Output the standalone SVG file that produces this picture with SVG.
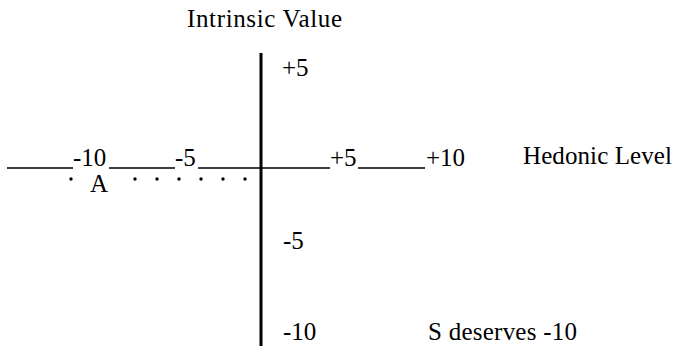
<svg xmlns="http://www.w3.org/2000/svg" width="676" height="348" viewBox="0 0 676 348">
<style>
text{font-family:"Liberation Serif","Times New Roman",serif;font-size:25px;fill:#000}
.ax{stroke:#000;fill:none}
</style>
<rect width="676" height="348" fill="#fff"/>
<g id="axes">
<line class="ax" x1="261" y1="53" x2="261" y2="346" stroke-width="3"/>
<g stroke-width="1.5">
<line class="ax" x1="7" y1="168" x2="73" y2="168"/>
<line class="ax" x1="109" y1="168" x2="175" y2="168"/>
<line class="ax" x1="198" y1="168" x2="330" y2="168"/>
<line class="ax" x1="358" y1="168" x2="425" y2="168"/>
</g>
</g>
<g id="dots" fill="#000">
<circle cx="71" cy="179" r="1.7"/>
<circle cx="135" cy="179" r="1.7"/>
<circle cx="157" cy="179" r="1.7"/>
<circle cx="179" cy="179" r="1.7"/>
<circle cx="201" cy="179" r="1.7"/>
<circle cx="223" cy="179" r="1.7"/>
<circle cx="245" cy="179" r="1.7"/>
</g>
<g id="labels">
<text x="187" y="27" textLength="155">Intrinsic Value</text>
<text x="282" y="76">+5</text>
<text x="73" y="166">-10</text>
<text x="175" y="166">-5</text>
<text x="330" y="166">+5</text>
<text x="426" y="166">+10</text>
<text x="523" y="164" textLength="149">Hedonic Level</text>
<text x="90" y="192">A</text>
<text x="283" y="249">-5</text>
<text x="283" y="340">-10</text>
<text x="428" y="340" textLength="149">S deserves -10</text>
</g>
</svg>
